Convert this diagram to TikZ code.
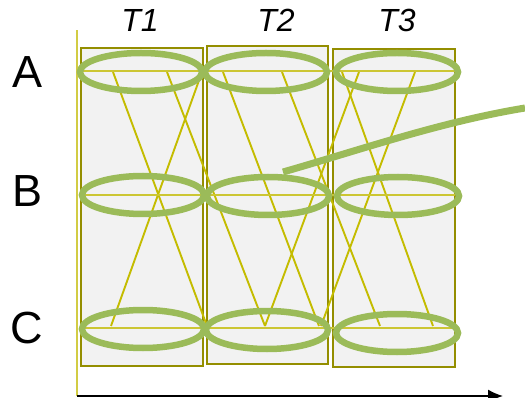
\documentclass[tikz,border=0pt]{standalone}
\usepackage{fontspec}
\setmainfont{Liberation Sans}
\usetikzlibrary{positioning,arrows.meta,shapes.geometric}
\definecolor{ringgreen}{HTML}{9BBB59}
\definecolor{boxline}{HTML}{948E00}
\definecolor{boxfill}{HTML}{F2F2F2}
\definecolor{linkyellow}{HTML}{C4BC00}
\definecolor{rowyellow}{HTML}{CCC633}
\definecolor{axisyellow}{HTML}{D2CC44}

\begin{document}
\begin{tikzpicture}[x=1pt,y=-1pt,
  ring/.style={ellipse,draw=ringgreen,line width=6.5pt,minimum width=122pt,minimum height=38pt,inner sep=0pt},
  slot/.style={draw=boxline,fill=boxfill,line width=2.8pt,minimum height=318pt,inner sep=0pt},
  link/.style={linkyellow,line width=1.9pt},
  rowline/.style={rowyellow,line width=1.5pt},
  rowname/.style={inner sep=0pt,font=\fontsize{45}{50}\selectfont},
  stepname/.style={inner sep=0pt,font=\fontsize{32}{36}\selectfont\itshape}]
      \useasboundingbox (0,0) rectangle (525,398);

      \coordinate (origin) at (77,396);
      \coordinate (ytop) at (77,30);
      \coordinate (xend) at (503,396);
      \draw[axisyellow,line width=2pt] (origin) -- (ytop);

      \node[slot,minimum width=122pt] (box1) at (142,207) {};
      \node[slot,minimum width=121pt] (box2) at (267.5,205) {};
      \node[slot,minimum width=122pt] (box3) at (394,208) {};

      \foreach \s/\e [count=\i] in {113/207,167/265,202/111,223/319,282/380,359/265,342/433,415/321}{
        \coordinate (up\i) at (\s,72);
        \coordinate (dn\i) at (\e,326);
        \draw[link] (up\i) -- (dn\i);
      }

      \foreach \r/\y in {A/71,B/195,C/328}{
        \coordinate (\r-w) at (80,\y);
        \coordinate (\r-e) at (455,\y);
        \draw[rowline] (\r-w) -- (\r-e);
      }

      \node[ring] (A1) at (141,72) {};
      \node[ring] (A2) at (266,72) {};
      \node[ring] (A3) at (397,72) {};
      \node[ring] (B1) at (143,195) {};
      \node[ring] (B2) at (268,196) {};
      \node[ring] (B3) at (398,196) {};
      \node[ring] (C1) at (143,329) {};
      \node[ring] (C2) at (267,330) {};
      \node[ring] (C3) at (397,333) {};

      \node[rowname] (nA) at (28,72) {A};
      \node[rowname] (nB) at (28,191) {B};
      \node[rowname] (nC) at (27,328) {C};

      \node[stepname] (T1) at (140,20) {T1};
      \node[stepname] (T2) at (276,20) {T2};
      \node[stepname] (T3) at (397,20) {T3};

      \coordinate (wave-s) at (283,172);
      \coordinate (wave-e) at (525,108);
      \draw[ringgreen,line width=7pt] (wave-s) .. controls (360,150) and (440,122) .. (wave-e);

      \draw[-{Latex[length=15pt,width=13pt]},line width=1.5pt] (origin) -- (xend);
     \end{tikzpicture}
\end{document}
